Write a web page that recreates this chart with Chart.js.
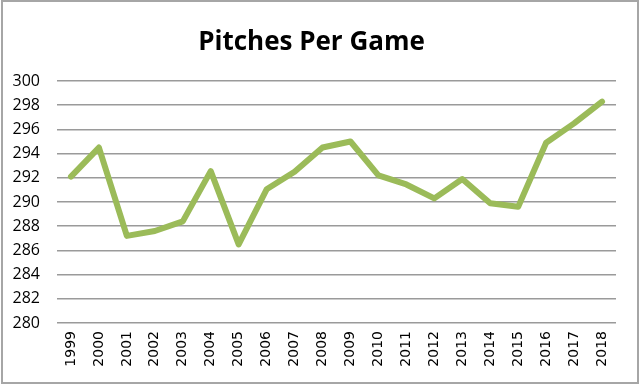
<!DOCTYPE html>
<html>
<head>
<meta charset="utf-8">
<script src="https://cdn.jsdelivr.net/npm/chart.js@4/dist/chart.umd.min.js"></script>
<style>
  html, body { margin: 0; padding: 0; background: #fff; }
  #wrap { width: 640px; height: 384px; position: relative; }
</style>
</head>
<body>
<div id="wrap"><canvas id="c" width="640" height="384"></canvas></div>
<script>
const years = ["1999","2000","2001","2002","2003","2004","2005","2006","2007","2008","2009","2010","2011","2012","2013","2014","2015","2016","2017","2018"];
const pitchesPerGame = [292.1, 294.5, 287.2, 287.6, 288.4, 292.55, 286.5, 291.05, 292.5, 294.5, 295.0, 292.2, 291.45, 290.3, 291.9, 289.9, 289.6, 294.9, 296.5, 298.3];
const yMin = 280, yMax = 300, yStep = 2;
const chartTitle = "Pitches Per Game";

const frame = {
  id: 'frame',
  beforeDraw(chart) {
    const ctx = chart.ctx;
    ctx.save();
    ctx.fillStyle = '#ffffff';
    ctx.fillRect(0, 0, chart.width, chart.height);
    ctx.restore();
  },
  afterDraw(chart) {
    const ctx = chart.ctx;
    ctx.save();
    ctx.strokeStyle = '#a6a6a6';
    ctx.lineWidth = 2;
    ctx.strokeRect(2, 1, chart.width - 4, chart.height - 2);
    ctx.restore();
  }
};

new Chart(document.getElementById('c'), {
  type: 'line',
  data: {
    labels: years,
    datasets: [{
      label: chartTitle,
      data: pitchesPerGame,
      borderColor: '#9bbb59',
      backgroundColor: '#9bbb59',
      borderWidth: 6,
      borderJoinStyle: 'round',
      borderCapStyle: 'round',
      pointRadius: 0,
      tension: 0,
      fill: false
    }]
  },
  options: {
    responsive: false,
    animation: false,
    devicePixelRatio: 1,
    layout: { padding: { left: 7, right: 24, top: 0, bottom: 11 } },
    plugins: {
      legend: { display: false },
      tooltip: { enabled: false },
      title: {
        display: true,
        text: chartTitle,
        color: '#000',
        font: { family: 'Open Sans', size: 26, weight: 'bold', lineHeight: 1.2 },
        padding: { top: 27, bottom: 22.8 }
      }
    },
    scales: {
      x: {
        offset: true,
        grid: { display: false, drawTicks: false },
        border: { display: false },
        ticks: {
          minRotation: 90, maxRotation: 90, autoSkip: false,
          padding: 8,
          color: '#000',
          font: { family: 'DejaVu Sans', size: 14 }
        },
        afterFit(s) { s.height = 50; }
      },
      y: {
        min: yMin, max: yMax,
        grid: { color: '#9a9a9a', lineWidth: 1.6, drawTicks: false },
        border: { display: false },
        ticks: {
          stepSize: yStep,
          padding: 17,
          color: '#000',
          font: { family: 'Open Sans', size: 16 }
        },
        afterFit(s) { s.width = 50; }
      }
    }
  },
  plugins: [frame]
});
</script>
</body>
</html>
